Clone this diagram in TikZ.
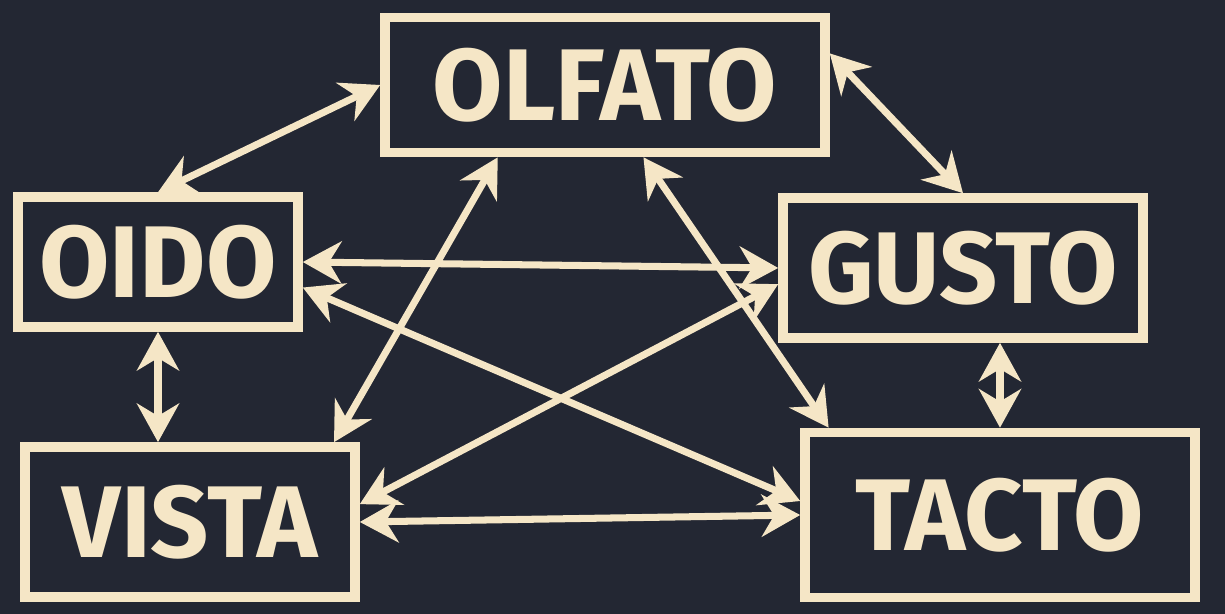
\documentclass[tikz,border=0pt]{standalone}
\usepackage{fontspec}
\setmainfont{Fira Sans}
\usetikzlibrary{arrows.meta,positioning}
\definecolor{board}{HTML}{232733}
\definecolor{chalk}{HTML}{F5E6C6}

\begin{document}
\begin{tikzpicture}[x=0.02cm, y=-0.02cm,
    sense/.style={draw=chalk, line width=5.5pt, text=chalk, inner sep=0pt,
        font=\fontsize{58}{58}\selectfont\bfseries},
    link/.style={draw=chalk, line width=4pt,
        {Stealth[length=22pt, width=24pt]}-{Stealth[length=22pt, width=24pt]}}
]
    \fill[board] (0,0) rectangle (1225,614);
    \useasboundingbox (0,0) rectangle (1225,614);

    \node[sense, minimum width=8.8cm, minimum height=2.7cm] (olfato) at (605,85) {OLFATO};
    \node[sense, minimum width=5.6cm, minimum height=2.6cm] (oido) at (158,262) {OIDO};
    \node[sense, minimum width=7.2cm, minimum height=2.8cm] (gusto) at (963,268) {GUSTO};
    \node[sense, minimum width=6.6cm, minimum height=3.0cm] (vista) at (190,522) {VISTA};
    \node[sense, minimum width=7.8cm, minimum height=3.3cm] (tacto) at (1000,515) {TACTO};

    \draw[link] (olfato.west) -- (oido.north);
    \draw[link] (olfato.8) -- (gusto.north);
    \draw[link] (olfato.214) -- (vista.29);
    \draw[link] (olfato.298) -- (tacto.153);
    \draw[link] (oido.east) -- (gusto.west);
    \draw[link] (oido.-10) -- (tacto.176);
    \draw[link] (oido.south) -- (oido.south |- vista.north);
    \draw[link] (gusto.185) -- (vista.6);
    \draw[link] (tacto.north |- gusto.south) -- (tacto.north);
    \draw[link] (vista.east) -- (tacto.west);
\end{tikzpicture}
\end{document}
